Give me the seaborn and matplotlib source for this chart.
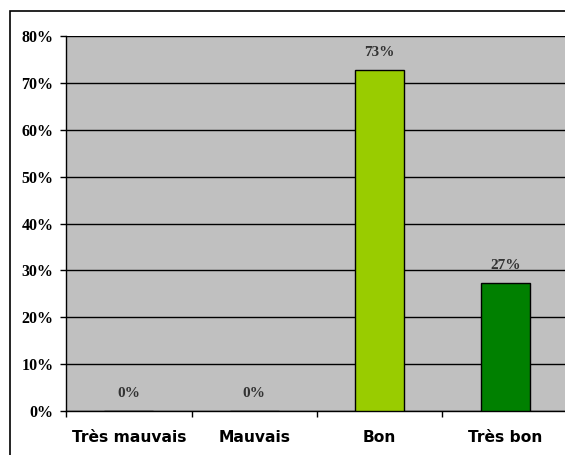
import numpy as np
import pandas as pd
import matplotlib.pyplot as plt
import seaborn as sns
from matplotlib.patches import Rectangle
from matplotlib.ticker import FixedLocator, PercentFormatter

# Data
categories = ['Très mauvais', 'Mauvais', 'Bon', 'Très bon']
values = [0, 0, 72.7, 27.3]
labels = ['0%', '0%', '73%', '27%']
colors = ['#99CC00', '#99CC00', '#99CC00', '#008000']

df = pd.DataFrame({'cat': categories, 'val': values})

sns.set_style('white')
fig = plt.figure(figsize=(5.65, 4.55), dpi=100)
fig.patch.set_facecolor('white')

# outer chart border (cut off on the right and bottom)
fig.add_artist(Rectangle((10 / 565, -0.05), 1.0, 1 - 11 / 455 + 0.05,
                         transform=fig.transFigure, fill=False,
                         edgecolor='black', linewidth=1.2))

ax = fig.add_axes([66 / 565, 1 - 411 / 455, 502 / 565, (411 - 36) / 455])
ax.set_facecolor('#C0C0C0')

sns.barplot(data=df, x='cat', y='val', hue='cat', palette=colors,
            saturation=1, legend=False, width=0.39, edgecolor='black',
            linewidth=1, ax=ax, zorder=3)

ax.set_ylim(0, 80)
ax.set_xlim(-0.5, 3.5)
ax.yaxis.set_major_locator(FixedLocator(np.arange(0, 81, 10)))
ax.yaxis.set_major_formatter(PercentFormatter(decimals=0))
ax.grid(axis='y', color='black', linewidth=1, zorder=1)
ax.set_axisbelow(True)

ax.xaxis.set_minor_locator(FixedLocator([-0.5, 0.5, 1.5, 2.5, 3.5]))
ax.tick_params(axis='x', which='major', length=0, pad=14, labelcolor='black')
ax.tick_params(axis='x', which='minor', length=4, width=1, color='black',
               direction='out', bottom=True)
ax.tick_params(axis='y', length=4, width=1, color='black', direction='out',
               left=True, pad=5, labelcolor='black')

for lab in ax.get_xticklabels():
    lab.set_fontfamily('DejaVu Sans')
    lab.set_fontweight('bold')
    lab.set_fontsize(11.2)
for lab in ax.get_yticklabels():
    lab.set_fontfamily('Liberation Serif')
    lab.set_fontweight('bold')
    lab.set_fontsize(11.5)

ax.set_xlabel('')
ax.set_ylabel('')

for s in ['top', 'right']:
    ax.spines[s].set_visible(False)
for s in ['left', 'bottom']:
    ax.spines[s].set_color('black')
    ax.spines[s].set_linewidth(1)

for i, (v, t) in enumerate(zip(values, labels)):
    ax.annotate(t, (i, v), xytext=(0, 8), textcoords='offset points',
                ha='center', va='bottom', fontsize=11, fontweight='bold',
                fontfamily='Liberation Serif', color='#333333', zorder=5)

fig.savefig('out.png', dpi=100)
